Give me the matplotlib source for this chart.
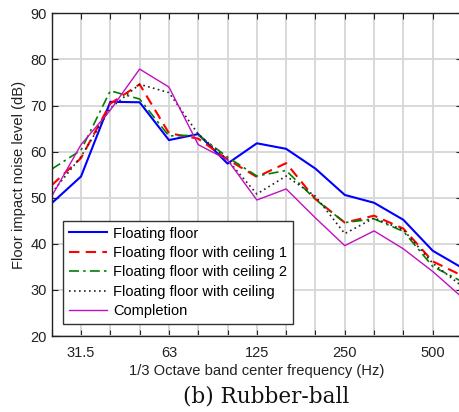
import numpy as np
import matplotlib
matplotlib.use('Agg')
import matplotlib.pyplot as plt

# 1/3 octave band centre frequencies (Hz)
freqs = [25, 31.5, 40, 50, 63, 80, 100, 125, 160, 200, 250, 315, 400, 500, 630]
tickFreqs = [31.5, 63, 125, 250, 500]

floating = [48.8, 54.6, 70.8, 70.7, 62.5, 63.8, 57.4, 61.8, 60.6, 56.3, 50.6, 48.9, 45.2, 38.5, 34.8]
ceiling1 = [52.7, 58.6, 70.4, 74.6, 64.0, 62.8, 58.3, 54.5, 57.5, 49.7, 44.6, 46.1, 43.3, 36.2, 33.1]
ceiling2 = [56.2, 60.3, 73.2, 71.4, 63.4, 63.6, 58.8, 54.7, 55.9, 49.6, 44.6, 45.4, 42.7, 35.1, 31.8]
ceiling = [51.0, 58.9, 69.4, 74.6, 72.8, 63.8, 58.2, 50.8, 54.7, 50.3, 42.2, 45.6, 43.0, 35.8, 30.8]
completion = [50.3, 61.5, 69.0, 77.9, 74.0, 61.5, 58.2, 49.5, 51.9, 45.6, 39.6, 42.8, 38.9, 34.0, 28.4]

labels = ['Floating floor', 'Floating floor with ceiling 1', 'Floating floor with ceiling 2',
          'Floating floor with ceiling', 'Completion']

plt.rcParams['font.family'] = ['Liberation Sans', 'DejaVu Sans']

x = np.arange(len(freqs))  # bands are equally spaced on the axis

fig = plt.figure(figsize=(4.6, 4.12), dpi=100)
ax = fig.add_axes([51.7 / 460, 1 - 336 / 412, (462 - 51.7) / 460, (336 - 13.3) / 412])

ax.plot(x, floating, color='#0000ff', lw=1.5, ls='-', label=labels[0])
ax.plot(x, ceiling1, color='#ff0000', lw=1.5, ls=(0, (5, 3)), label=labels[1])
ax.plot(x, ceiling2, color='#008000', lw=1.2, ls=(0, (6, 2.5, 1.5, 2.5)), label=labels[2])
ax.plot(x, ceiling, color='#222222', lw=1.2, ls=(0, (1, 2)), label=labels[3])
ax.plot(x, completion, color='#c010c0', lw=1.0, ls='-', label=labels[4])

ax.set_xlim(0, len(freqs) - 1)
ax.set_ylim(20, 90)
ax.set_yticks(np.arange(20, 91, 10))
ax.set_xticks(x)
ax.set_xticklabels([('%g' % f if f in tickFreqs else '') for f in freqs])
ax.tick_params(direction='in', top=True, right=True, length=4, width=0.8, labelsize=10.5, colors='#222222')
ax.tick_params(axis='x', pad=7)
ax.grid(color='#d8d8d8', lw=1.4)
ax.set_axisbelow(True)
for s in ax.spines.values():
    s.set_color('#222222')
    s.set_linewidth(1.0)

ax.set_xlabel('1/3 Octave band center frequency (Hz)', fontsize=10.6, color='#222222', labelpad=3)
ax.set_ylabel('Floor impact noise level (dB)', fontsize=10.6, color='#222222', labelpad=3)

leg = ax.legend(loc='lower left', bbox_to_anchor=(11.5 / 410.3, 12 / 322.7), fontsize=10.5, handlelength=2.6,
                borderaxespad=0, fancybox=False, framealpha=1, edgecolor='#333333', labelspacing=0.37,
                handletextpad=0.4, borderpad=0.4)
leg.get_frame().set_linewidth(1.0)

fig.text(266 / 460, 1 - 396 / 412, '(b) Rubber-ball', ha='center', va='center', fontsize=15.5,
         family=['DejaVu Serif'], color='#111111')

fig.savefig('out.png', dpi=100)
